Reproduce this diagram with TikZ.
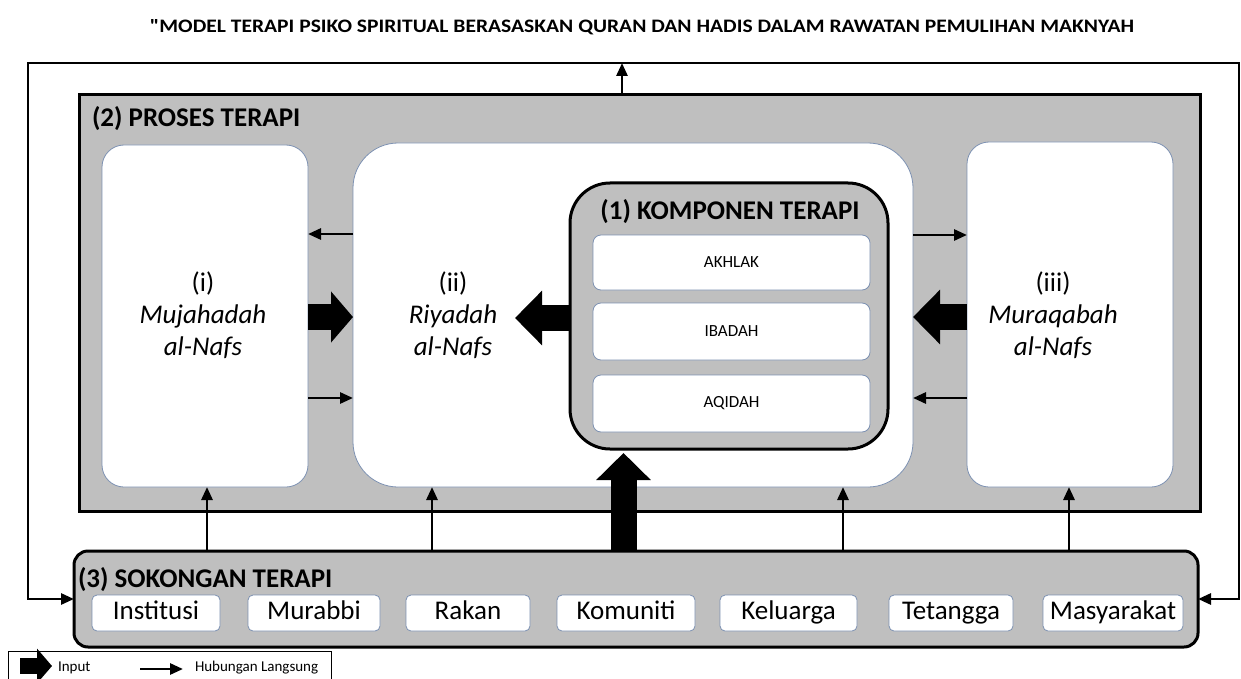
\documentclass[tikz,border=0pt]{standalone}
\usepackage{fontspec}
\setmainfont{Carlito}
\newfontfamily\titlefont[Ligatures=TeXOff]{Carlito}
\usetikzlibrary{arrows.meta,calc}
\definecolor{boxgray}{RGB}{191,191,191}
\definecolor{thinborder}{RGB}{125,145,178}
\newcommand\fsz[1]{\fontsize{#1}{#1}\selectfont}
\begin{document}
\begin{tikzpicture}[x=1pt,y=-1pt,
 every node/.style={inner sep=0pt, outer sep=0pt},
 graybox/.style={draw=black, line width=3pt, fill=boxgray},
 whitebox/.style={draw=thinborder, line width=0.8pt, fill=white},
 arr/.style={line width=2.8pt, -{Triangle[length=13pt,width=11pt]}},
 blk/.style={line width=26pt, -{Triangle[length=27pt,width=53pt]}},
 head/.style={font=\bfseries\fsz{27}},
 item/.style={whitebox, rounded corners=5pt, minimum height=36pt, text height=17.5pt, text depth=5.5pt, font=\fsz{27}},
 stage/.style={align=center, font=\fontsize{27}{32}\selectfont},
 comp/.style={whitebox, rounded corners=8pt, minimum width=277pt, font=\fsz{17}},
]
\useasboundingbox (0,0) rectangle (1241,679);

% title
\node (title) at (642,27) {\resizebox{984pt}{13pt}{\titlefont\bfseries\fsz{20}"MODEL TERAPI PSIKO SPIRITUAL BERASASKAN QURAN DAN HADIS DALAM RAWATAN PEMULIHAN MAKNYAH}};

% process box
\node[graybox, minimum width=1121pt, minimum height=416pt] (proc) at (639.5,303) {};
\node[head, anchor=base west] (proclbl) at (92,127) {(2) PROSES TERAPI};

\node[whitebox, rounded corners=22pt, minimum width=206pt, minimum height=342pt] (muj) at (205,316) {};
\node[whitebox, rounded corners=45pt, minimum width=560pt, minimum height=344pt] (riy) at (633,315) {};
\node[whitebox, rounded corners=22pt, minimum width=206pt, minimum height=345pt] (mur) at (1070,314.5) {};

\node[stage] (mujt) at (203,315) {(i)\\\textit{Mujahadah}\\\textit{al-Nafs}};
\node[stage] (riyt) at (453,315) {(ii)\\\textit{Riyadah}\\\textit{al-Nafs}};
\node[stage] (murt) at (1053,315) {(iii)\\\textit{Muraqabah}\\\textit{al-Nafs}};

% component box
\node[graybox, rounded corners=40pt, minimum width=318pt, minimum height=266pt] (kom) at (729,316) {};
\node[head, anchor=base] (komlbl) at (730,219) {(1) KOMPONEN TERAPI};
\node[comp, minimum height=55pt] (akh) at (731.5,262.5) {AKHLAK};
\node[comp, minimum height=57pt] (iba) at (731.5,331.5) {IBADAH};
\node[comp, minimum height=57pt] (aqi) at (731.5,403.5) {AQIDAH};

% support box
\node[graybox, rounded corners=14pt, minimum width=1124pt, minimum height=96pt] (sok) at (636,599) {};
\node[head, anchor=base west] (soklbl) at (78,587) {(3) SOKONGAN TERAPI};
\node[item, minimum width=128pt] (ins) at (156,613) {Institusi};
\node[item, minimum width=132pt] (mrb) at (314,613) {Murabbi};
\node[item, minimum width=124pt] (rak) at (468,613) {Rakan};
\node[item, minimum width=138pt] (kmn) at (626,613) {Komuniti};
\node[item, minimum width=137pt] (kel) at (788.5,613) {Keluarga};
\node[item, minimum width=124pt] (tet) at (951,613) {Tetangga};
\node[item, minimum width=140pt] (mas) at (1113,613) {Masyarakat};

% feedback loop
\coordinate (tl) at (28,63);
\coordinate (tr) at (1239,63);
\coordinate (tm) at (622,63);
\draw[arr] (tm) -- (tl) -- (tl |- sok.west) -- (sok.west);
\draw[arr] (tm) -- (tr) -- (tr |- sok.east) -- (sok.east);
\draw[arr] (proc.north -| tm) -- (tm);

% thin arrows between stages
\draw[arr] (riy.west |- 0,234) -- (muj.east |- 0,234);
\draw[arr] (muj.east |- 0,398) -- (riy.west |- 0,398);
\draw[arr] (riy.east |- 0,235) -- (mur.west |- 0,235);
\draw[arr] (mur.west |- 0,398) -- (riy.east |- 0,398);

% block (input) arrows
\coordinate (riytip) at (515,318);
\draw[blk, -{Triangle[length=22pt,width=50pt]}] (muj.east |- 0,317) -- (riy.west |- 0,317);
\draw[blk] (kom.west |- 0,318) -- (riytip);
\draw[blk] (mur.west |- 0,317) -- (riy.east |- 0,317);
\draw[blk, shorten >=4pt] (sok.north -| 623.5,0) -- (kom.south -| 623.5,0);

% support arrows
\draw[arr] (sok.north -| 207,0) -- (muj.south -| 207,0);
\draw[arr] (sok.north -| 432,0) -- (riy.south -| 432,0);
\draw[arr] (sok.north -| 843,0) -- (riy.south -| 843,0);
\draw[arr] (sok.north -| 1069,0) -- (mur.south -| 1069,0);

% legend
\node[draw=black, line width=0.8pt, minimum width=323pt, minimum height=40pt, anchor=north west] (legend) at (8,651) {};
\coordinate (lgA) at (20,666);
\coordinate (lgB) at (52,666);
\draw[line width=16pt, -{Triangle[length=15pt,width=34pt]}] (lgA) -- (lgB);
\node[anchor=west, font=\fsz{15}] (lgin) at (58,668) {Input};
\coordinate (lgC) at (140,669);
\coordinate (lgD) at (183,669);
\draw[arr] (lgC) -- (lgD);
\node[anchor=west, font=\fsz{15}] (lghub) at (195,668) {Hubungan Langsung};
\end{tikzpicture}
\end{document}
